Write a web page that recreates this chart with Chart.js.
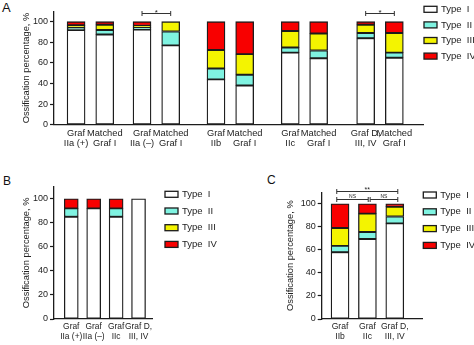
<!DOCTYPE html>
<html>
<head>
<meta charset="utf-8">
<script src="https://cdn.jsdelivr.net/npm/chart.js@4.4.1/dist/chart.umd.min.js"></script>
<style>
  html, body { margin: 0; padding: 0; background: #fff; }
  body { position: relative; width: 474px; height: 345px; overflow: hidden; }
  canvas { position: absolute; }
  .tag { position: absolute; font-family: "Liberation Sans", Arial, sans-serif; color: #111; line-height: 1; }
</style>
</head>
<body>
<div class="tag" style="left:2px;top:1px;font-size:13px">A</div>
<div class="tag" style="left:3px;top:175px;font-size:12px">B</div>
<div class="tag" style="left:267px;top:174px;font-size:12px">C</div>
<canvas id="chartA" style="left:0;top:0" width="500" height="170"></canvas>
<canvas id="chartB" style="left:0;top:170px" width="240" height="175"></canvas>
<canvas id="chartC" style="left:240px;top:170px" width="250" height="175"></canvas>
<script>
const typeNames = ["Type I", "Type II", "Type III", "Type IV"];

// panel A: each Graf group next to its matched Graf I hips
const labelsA = [["Graf", "IIa (+)"], ["Matched", "Graf I"], ["Graf", "IIa (\u2013)"], ["Matched", "Graf I"],
                 ["Graf", "IIb"], ["Matched", "Graf I"], ["Graf", "IIc"], ["Matched", "Graf I"],
                 ["Graf D,", "III, IV"], ["Matched", "Graf I"]];
const typeIA   = [92, 87.5, 92.5, 77, 44, 38, 70, 64.5, 84, 65];
const typeIIA  = [2, 4.5, 2, 13.5, 10.5, 10.5, 5, 7.5, 5, 5];
const typeIIIA = [2.5, 5, 1.5, 9.5, 18, 20, 16, 16.5, 8, 19];
const typeIVA  = [3.5, 3, 4, 0, 27.5, 31.5, 9, 11.5, 3, 11];

// panel B
const labelsB = [["Graf", "IIa (+)"], ["Graf", "IIa (\u2013)"], ["Graf", "IIc"], ["Graf D,", "III, IV"]];
const typeIB   = [85, 92, 85, 100];
const typeIIB  = [7, 0, 7, 0];
const typeIIIB = [0, 0, 0, 0];
const typeIVB  = [8, 8, 8, 0];

// panel C
const labelsC = [["Graf", "IIb"], ["Graf", "IIc"], ["Graf D,", "III, IV"]];
const typeIC   = [58, 69.5, 83];
const typeIIC  = [5.5, 6, 6];
const typeIIIC = [15.5, 16, 8.5];
const typeIVC  = [21, 8.5, 2.5];

// where the bars sit along the (linear) x axis
const posA = [1, 2, 3.3, 4.3, 5.88, 6.88, 8.47, 9.46, 11.1, 12.1];
const posB = [1, 2, 3, 4];
const posC = [1, 2, 3];

const fills = ["#ffffff", "#7ff3e1", "#f4f400", "#f80000"];
const ink = "#1c1c1c";
const FONT = '"Liberation Sans", Arial, sans-serif';

const minorTicks = {
  id: "minorTicks",
  afterDraw(chart) {
    const y = chart.scales.y, ctx = chart.ctx, x0 = chart.chartArea.left;
    ctx.save();
    ctx.strokeStyle = ink;
    ctx.lineWidth = 1.2;
    y.ticks.forEach(t => {
      if (t.value % 20 === 0) return;
      const py = Math.round(y.getPixelForValue(t.value)) + 0.5;
      ctx.beginPath(); ctx.moveTo(x0 - 2.5, py); ctx.lineTo(x0, py); ctx.stroke();
    });
    ctx.restore();
  }
};

const sideLegend = {
  id: "sideLegend",
  afterDraw(chart, args, o) {
    const ctx = chart.ctx;
    ctx.save();
    ctx.font = "9.5px " + FONT;
    ctx.textBaseline = "middle";
    chart.data.datasets.forEach((ds, i) => {
      const cy = o.y + i * o.gap;
      ctx.fillStyle = ds.backgroundColor;
      ctx.fillRect(o.x, cy - 3, 13, 6);
      ctx.strokeStyle = ink; ctx.lineWidth = 1.3;
      ctx.strokeRect(o.x, cy - 3, 13, 6);
      ctx.fillStyle = "#222";
      ctx.fillText(ds.label.replace(" ", "  "), o.x + 17, cy);
    });
    ctx.restore();
  }
};

// significance brackets above the bars
const brackets = {
  id: "brackets",
  afterDraw(chart, args, o) {
    const ctx = chart.ctx, xs = chart.scales.x, ys = chart.scales.y;
    ctx.save();
    ctx.strokeStyle = "#333";
    ctx.fillStyle = "#222";
    ctx.lineWidth = 1;
    ctx.textAlign = "center";
    ctx.textBaseline = "alphabetic";
    (o.items || []).forEach(b => {
      const x1 = xs.getPixelForValue(b.from), x2 = xs.getPixelForValue(b.to);
      const y = Math.round(ys.getPixelForValue(b.y)) + 0.5;
      ctx.beginPath();
      ctx.moveTo(x1, y); ctx.lineTo(x2, y);
      ctx.moveTo(x1, y - 2.5); ctx.lineTo(x1, y + 2.5);
      ctx.moveTo(x2, y - 2.5); ctx.lineTo(x2, y + 2.5);
      ctx.stroke();
      ctx.font = b.size + "px " + FONT;
      ctx.fillText(b.text, (x1 + x2) / 2, y - b.lift);
    });
    ctx.restore();
  }
};

function datasets(pos, series, thickness) {
  return series.map((vals, i) => ({
    label: typeNames[i],
    data: pos.map((x, j) => ({ x: x, y: vals[j] })),
    backgroundColor: fills[i],
    borderColor: ink,
    borderWidth: 1.3,
    borderSkipped: false,
    barThickness: thickness,
    stack: "all"
  }));
}

function panel(id, cfg) {
  return new Chart(document.getElementById(id), {
    type: "bar",
    data: { datasets: datasets(cfg.pos, cfg.series, cfg.thickness) },
    options: {
      responsive: false,
      animation: false,
      events: [],
      layout: { padding: { left: 0, top: cfg.top, right: cfg.right, bottom: 0 } },
      plugins: {
        legend: { display: false },
        tooltip: { enabled: false },
        sideLegend: cfg.legend,
        brackets: { items: cfg.brackets }
      },
      scales: {
        x: {
          type: "linear",
          offset: false,
          min: cfg.xMin, max: cfg.xMax,
          grid: { display: false, drawTicks: false, offset: false },
          border: { display: true, color: ink, width: 1.3 },
          afterBuildTicks: s => { s.ticks = cfg.pos.map(v => ({ value: v })); },
          afterFit: s => { s.height = cfg.xHeight; s.paddingLeft = 0; s.paddingRight = 0; },
          ticks: {
            autoSkip: false, maxRotation: 0, minRotation: 0, padding: 3,
            color: "#222",
            font: { family: FONT, size: cfg.labelSize, lineHeight: 1.15 },
            callback: (v, i) => cfg.labels[i]
          }
        },
        y: {
          stacked: true,
          min: 0, max: 110,
          grid: {
            drawOnChartArea: false, drawTicks: true, tickLength: 4, tickWidth: 1.2,
            tickColor: c => (c.tick && c.tick.value % 20 === 0) ? ink : "rgba(0,0,0,0)"
          },
          border: { display: true, color: ink, width: 1.3 },
          afterFit: s => { s.width = cfg.yWidth; },
          ticks: {
            stepSize: 10, padding: 2, color: "#222",
            font: { family: FONT, size: 9 },
            callback: v => (v % 20 === 0 && v <= 100) ? v : ""
          },
          title: {
            display: true,
            text: "Ossification percentage, %",
            color: "#222",
            font: { family: FONT, size: 9.3, lineHeight: 1.2 },
            padding: { top: cfg.titleX, bottom: 0 }
          }
        }
      }
    },
    plugins: [minorTicks, sideLegend, brackets]
  });
}

panel("chartA", {
  pos: posA, labels: labelsA, thickness: 18, labelSize: 9.3,
  series: [typeIA, typeIIA, typeIIIA, typeIVA],
  xMin: 0.23, xMax: 13.1, top: 11.4, right: 77, xHeight: 45.3, yWidth: 54, titleX: 20.4,
  legend: { x: 424, y: 9.3, gap: 15.6 },
  brackets: [
    { from: posA[2], to: posA[3], y: 108, text: "*", size: 8, lift: -1 },
    { from: posA[8], to: posA[9], y: 108, text: "*", size: 8, lift: -1 }
  ]
});

panel("chartB", {
  pos: posB, labels: labelsB, thickness: 14, labelSize: 8.4,
  series: [typeIB, typeIIB, typeIIIB, typeIVB],
  xMin: 0.23, xMax: 4.6, top: 16.7, right: 88, xHeight: 26, yWidth: 54, titleX: 20.4,
  legend: { x: 165, y: 24.3, gap: 16.7 },
  brackets: []
});

panel("chartC", {
  pos: posC, labels: labelsC, thickness: 18, labelSize: 8.6,
  series: [typeIC, typeIIC, typeIIIC, typeIVC],
  xMin: 0.33, xMax: 4.02, top: 22.3, right: 67.3, xHeight: 26, yWidth: 81.7, titleX: 44.4,
  legend: { x: 183.3, y: 25, gap: 16.8 },
  brackets: [
    { from: posC[0] - 0.12, to: posC[2] + 0.11, y: 111.5, text: "**", size: 7, lift: 0 },
    { from: posC[0] - 0.12, to: posC[1] + 0.03, y: 104.4, text: "NS", size: 5, lift: 2 },
    { from: posC[1] + 0.1, to: posC[2] + 0.11, y: 104.4, text: "NS", size: 5, lift: 2 }
  ]
});
</script>
</body>
</html>
